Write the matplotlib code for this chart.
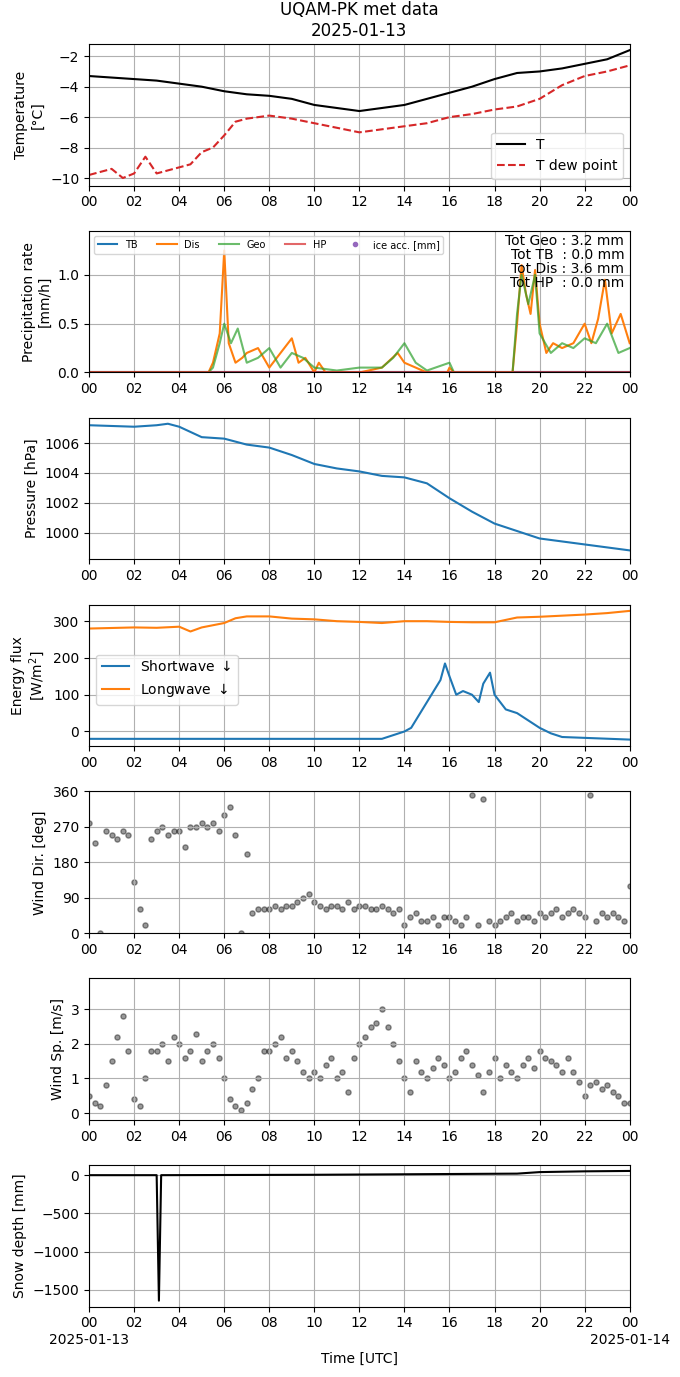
import matplotlib.pyplot as plt
import numpy as np

# temperature (hour, value)
t_hours = [0, 1, 2, 3, 4, 5, 6, 7, 8, 9, 10, 11, 12, 13, 14, 15, 16, 17, 18, 19, 20, 21, 22, 23, 24]
t_air = [-3.3, -3.4, -3.5, -3.6, -3.8, -4.0, -4.3, -4.5, -4.6, -4.8, -5.2, -5.4, -5.6, -5.4, -5.2,
         -4.8, -4.4, -4.0, -3.5, -3.1, -3.0, -2.8, -2.5, -2.2, -1.6]
td_hours = [0, 0.5, 1, 1.5, 2, 2.5, 3, 3.5, 4, 4.5, 5, 5.5, 6, 6.5, 7, 8, 9, 10, 11, 12, 13, 14, 15,
            16, 17, 18, 19, 20, 21, 22, 23, 24]
t_dew = [-9.8, -9.6, -9.4, -10.0, -9.7, -8.6, -9.7, -9.5, -9.3, -9.1, -8.3, -8.0, -7.2, -6.3, -6.1,
         -5.9, -6.1, -6.4, -6.7, -7.0, -6.8, -6.6, -6.4, -6.0, -5.8, -5.5, -5.3, -4.8, -3.9, -3.3, -3.0, -2.6]

# precipitation rate
dis_h = [0, 5.3, 5.5, 5.8, 6.0, 6.2, 6.5, 6.8, 7, 7.5, 8, 8.5, 9, 9.3, 9.6, 10, 10.2, 10.5, 12, 13, 13.7,
         14, 14.5, 15, 15.9, 16, 16.2, 18.8, 19, 19.2, 19.4, 19.6, 19.8, 20, 20.3, 20.6, 21, 21.5, 22,
         22.3, 22.6, 22.9, 23.2, 23.6, 24]
dis_v = [0, 0, 0.1, 0.4, 1.25, 0.3, 0.1, 0.15, 0.2, 0.25, 0.05, 0.2, 0.35, 0.1, 0.15, 0.0, 0.1, 0, 0, 0.05,
         0.2, 0.1, 0.05, 0, 0, 0.05, 0, 0, 0.5, 1.1, 0.8, 0.6, 1.05, 0.5, 0.2, 0.3, 0.25, 0.3, 0.5, 0.3,
         0.55, 0.95, 0.4, 0.6, 0.3]
geo_h = [0, 5.3, 5.5, 5.8, 6.0, 6.3, 6.6, 7, 7.5, 8, 8.5, 9, 9.5, 10, 11, 12, 13, 13.5, 14, 14.5, 15, 16,
         16.2, 18.8, 19, 19.2, 19.5, 19.8, 20, 20.5, 21, 21.5, 22, 22.5, 23, 23.5, 24]
geo_v = [0, 0, 0.05, 0.3, 0.5, 0.3, 0.45, 0.1, 0.15, 0.25, 0.05, 0.2, 0.15, 0.05, 0.02, 0.05, 0.05, 0.15,
         0.3, 0.1, 0.02, 0.1, 0, 0, 0.6, 1.0, 0.7, 1.0, 0.4, 0.2, 0.3, 0.25, 0.35, 0.3, 0.5, 0.2, 0.25]

# pressure
p_hours = [0, 2, 3, 3.5, 4, 5, 6, 7, 8, 9, 10, 11, 12, 13, 14, 15, 16, 17, 18, 19, 20, 21, 22, 23, 24]
pressure = [1007.2, 1007.1, 1007.2, 1007.3, 1007.1, 1006.4, 1006.3, 1005.9, 1005.7, 1005.2, 1004.6,
            1004.3, 1004.1, 1003.8, 1003.7, 1003.3, 1002.3, 1001.4, 1000.6, 1000.1, 999.6, 999.4,
            999.2, 999.0, 998.8]

# radiation
sw_h = [0, 13, 13.5, 14, 14.3, 14.6, 15, 15.3, 15.6, 15.8, 16, 16.3, 16.6, 17, 17.3, 17.5, 17.8, 18,
        18.5, 19, 19.5, 20, 20.5, 21, 24]
sw_v = [-20, -20, -10, 0, 10, 40, 80, 110, 140, 185, 150, 100, 110, 100, 80, 130, 160, 100, 60, 50, 30,
        10, -5, -15, -22]
lw_h = [0, 2, 3, 4, 4.5, 5, 6, 6.5, 7, 8, 9, 10, 11, 12, 13, 14, 15, 16, 17, 18, 19, 20, 21, 22, 23, 24]
lw_v = [280, 283, 282, 285, 272, 283, 295, 308, 313, 313, 307, 305, 300, 298, 295, 300, 300, 298, 297,
        297, 310, 312, 315, 318, 322, 328]

# wind, 15 minute samples
wind_dir = [280, 230, 0, 260, 250, 240, 260, 250, 130, 60, 20, 240, 260, 270, 250, 260,
            260, 220, 270, 270, 280, 270, 280, 260, 300, 320, 250, 0, 200, 50, 60, 60,
            60, 70, 60, 70, 70, 80, 90, 100, 80, 70, 60, 70, 70, 60, 80, 60,
            70, 70, 60, 60, 70, 60, 50, 60, 20, 40, 50, 30, 30, 40, 20, 40,
            40, 30, 20, 40, 350, 20, 340, 30, 20, 30, 40, 50, 30, 40, 40, 30,
            50, 40, 50, 60, 40, 50, 60, 50, 40, 350, 30, 50, 40, 50, 40, 30, 120]
wind_sp = [0.5, 0.3, 0.2, 0.8, 1.5, 2.2, 2.8, 1.8, 0.4, 0.2, 1.0, 1.8, 1.8, 2.0, 1.5, 2.2,
           2.0, 1.6, 1.8, 2.3, 1.5, 1.8, 2.0, 1.6, 1.0, 0.4, 0.2, 0.1, 0.3, 0.7, 1.0, 1.8,
           1.8, 2.0, 2.2, 1.6, 1.8, 1.5, 1.2, 1.0, 1.2, 1.0, 1.4, 1.6, 1.0, 1.2, 0.6, 1.6,
           2.0, 2.2, 2.5, 2.6, 3.0, 2.5, 2.0, 1.5, 1.0, 0.6, 1.5, 1.2, 1.0, 1.3, 1.6, 1.4,
           1.0, 1.2, 1.6, 1.8, 1.4, 1.1, 0.6, 1.2, 1.6, 1.0, 1.4, 1.2, 1.0, 1.4, 1.6, 1.3,
           1.8, 1.6, 1.5, 1.4, 1.2, 1.6, 1.2, 0.9, 0.5, 0.8, 0.9, 0.7, 0.8, 0.6, 0.5, 0.3, 0.3]
wind_h = np.arange(len(wind_dir)) * 0.25

# snow depth
sd_h = [0, 3.0, 3.1, 3.2, 10, 19, 20, 22, 24]
snow = [0, 0, -1640, 0, 5, 20, 40, 50, 55]

fig, axs = plt.subplots(7, 1, figsize=(6.8, 13.77), dpi=100)
fig.subplots_adjust(left=0.131, right=0.926, top=0.968, bottom=0.051, hspace=0.32)
axs[0].set_title('UQAM-PK met data\n2025-01-13')

ax = axs[0]
ax.plot(t_hours, t_air, 'k-', label='T')
ax.plot(td_hours, t_dew, '--', color='tab:red', label='T dew point')
ax.set_ylim(-10.5, -1.2)
ax.set_ylabel('Temperature\n[°C]')
ax.legend(loc='lower right')

ax = axs[1]
ax.plot([0, 24], [0, 0], color='tab:blue', label='TB')
ax.plot(dis_h, dis_v, color='tab:orange', label='Dis')
ax.plot(geo_h, geo_v, color='tab:green', alpha=0.7, label='Geo')
ax.plot([0, 24], [0, 0], color='tab:red', alpha=0.7, label='HP')
ax.plot([], [], 'o', ms=3, color='tab:purple', label='ice acc. [mm]')
ax.set_ylim(0, 1.45)
ax.set_ylabel('Precipitation rate\n[mm/h]')
ax.legend(loc='upper left', ncol=5, fontsize=7)
ax.text(0.99, 0.98, 'Tot Geo : 3.2 mm\nTot TB  : 0.0 mm\nTot Dis : 3.6 mm\nTot HP  : 0.0 mm',
        transform=ax.transAxes, ha='right', va='top', linespacing=1.0)

ax = axs[2]
ax.plot(p_hours, pressure, color='tab:blue')
ax.set_ylim(998.2, 1007.7)
ax.set_ylabel('Pressure [hPa]')

ax = axs[3]
ax.plot(sw_h, sw_v, label='Shortwave $\\downarrow$')
ax.plot(lw_h, lw_v, label='Longwave $\\downarrow$')
ax.set_ylim(-40, 345)
ax.set_ylabel('Energy flux\n[W/m$^2$]')
ax.legend(loc='center left', bbox_to_anchor=(0, 0.47))

ax = axs[4]
ax.scatter(wind_h, wind_dir, s=14, color='k', alpha=0.4)
ax.set_ylim(0, 360)
ax.set_yticks([0, 90, 180, 270, 360])
ax.set_ylabel('Wind Dir. [deg]')

ax = axs[5]
ax.scatter(wind_h, wind_sp, s=14, color='k', alpha=0.4)
ax.set_ylim(-0.2, 3.9)
ax.set_ylabel('Wind Sp. [m/s]')

ax = axs[6]
ax.plot(sd_h, snow, 'k-')
ax.set_ylim(-1720, 130)
ax.set_ylabel('Snow depth [mm]')
ax.set_xlabel('Time [UTC]')

ticks = list(range(0, 25, 2))
labels = ['%02d' % (h % 24) for h in ticks]
for i, ax in enumerate(axs):
    ax.set_xlim(0, 24)
    ax.set_xticks(ticks)
    if i == 6:
        lab = list(labels)
        lab[0] = '00\n2025-01-13'
        lab[-1] = '00\n2025-01-14'
        ax.set_xticklabels(lab)
    else:
        ax.set_xticklabels(labels)
    ax.grid(True)

fig.savefig('out.png')
